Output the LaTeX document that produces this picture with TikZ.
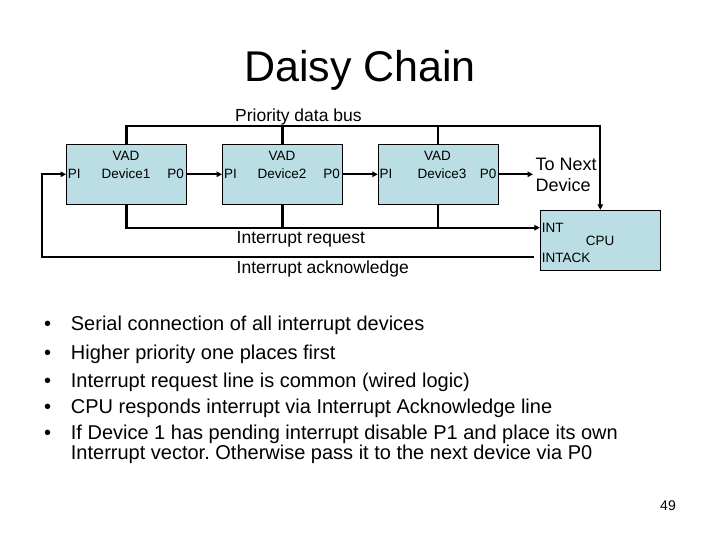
\documentclass[tikz,border=0pt]{standalone}
\usepackage{fontspec}
\setmainfont{Liberation Sans}
\usetikzlibrary{arrows.meta,calc}
\definecolor{boxfill}{RGB}{186,222,228}
\newcommand{\fs}[1]{\fontsize{#1}{#1}\selectfont}
\frenchspacing
\tikzset{
  devbox/.style={draw=black, line width=1pt, fill=boxfill, minimum width=120pt, minimum height=60pt, inner sep=0pt},
  wire/.style={line width=2.1pt},
  arr/.style={wire, -{Triangle[length=5.5pt,width=5.5pt]}},
  lbl/.style={inner sep=0pt, anchor=base, font=\fs{13.5}},
  lblw/.style={inner sep=0pt, anchor=base west, font=\fs{13.5}},
  bigl/.style={inner sep=0pt, anchor=base west, font=\fs{17.5}},
  bul/.style={inner sep=0pt, anchor=base west, font=\fs{20}},
}
\begin{document}
\begin{tikzpicture}[x=1pt,y=-1pt]
\useasboundingbox (0,0) rectangle (720,540);
% title
\node[inner sep=0pt, anchor=base, font=\fs{43}] (title) at (360,81.7) {Daisy Chain};
% boxes
\node[devbox] (d1) at (126.5,174.3) {};
\node[devbox] (d2) at (282.5,174.3) {};
\node[devbox] (d3) at (438.3,174.3) {};
\node[devbox] (cpu) at (600.3,240.3) {};
% device labels
\node[lbl] (d1v) at (126,161) {VAD};
\node[lbl] (d1n) at (126,178.7) {Device1};
\node[lblw] (d1pi) at (67.7,178.7) {PI};
\node[lbl, anchor=base east] (d1po) at (184,178.7) {P0};
\node[lbl] (d2v) at (282,161) {VAD};
\node[lbl] (d2n) at (282,178.7) {Device2};
\node[lblw] (d2pi) at (224,178.7) {PI};
\node[lbl, anchor=base east] (d2po) at (340,178.7) {P0};
\node[lbl] (d3v) at (437.5,161) {VAD};
\node[lbl] (d3n) at (442,178.7) {Device3};
\node[lblw] (d3pi) at (379.3,178.7) {PI};
\node[lbl, anchor=base east] (d3po) at (496.7,178.7) {P0};
% cpu labels
\node[lblw] (cint) at (541.7,232.3) {INT};
\node[lbl] (ccpu) at (600,245) {CPU};
\node[lblw] (cack) at (541.7,262.3) {INTACK};
% line labels
\node[bigl] (lbus) at (235,121.5) {Priority data bus};
\node[bigl] (lirq) at (236.5,243.3) {Interrupt request};
\node[bigl] (lack) at (236.5,273.5) {Interrupt acknowledge};
\node[inner sep=0pt, anchor=base west, font=\fs{18}] (next) at (535.5,170.7) {To Next};
\node[inner sep=0pt, anchor=base west, font=\fs{18}] (next2) at (535.5,191.7) {Device};
% coordinates
\coordinate (bus) at (0,125.7);
\coordinate (irq) at (0,227.7);
\coordinate (ackr) at (534,257.3);
\coordinate (ackl) at (42.3,257.3);
\coordinate (nxt) at (533,174.3);
% priority data bus
\draw[arr] (d1.north) -- (d1.north|-bus) -| (cpu.north);
\draw[wire] (d2.north) -- (d2.north|-bus);
\draw[wire] (d3.north) -- (d3.north|-bus);
% interrupt request
\draw[arr] (d1.south) |- (cpu.west|-irq);
\draw[wire] (d2.south) -- (d2.south|-irq);
\draw[wire] (d3.south) -- (d3.south|-irq);
% interrupt acknowledge
\draw[arr] (ackr) -- (ackl) |- (d1.west);
% daisy chain
\draw[arr] (d1.east) -- (d2.west);
\draw[arr] (d2.east) -- (d3.west);
\draw[arr] (d3.east) -- (nxt);
% bullets
\foreach \y/\t [count=\i] in {330.7/Serial connection of all interrupt devices,
  359.3/Higher priority one places first,
  387.3/Interrupt request line is common (wired logic),
  413.3/CPU responds interrupt via Interrupt Acknowledge line,
  439.3/If Device 1 has pending interrupt disable P1 and place its own}{
  \node[bul] (b\i) at (44,\y) {•};
  \node[bul] (t\i) at (70.7,\y) {\t};
}
\node[bul] (t6) at (70.7,459.3) {Interrupt vector. Otherwise pass it to the next device via P0};
% page number
\node[inner sep=0pt, anchor=base, font=\fs{14}] (pg) at (668,510) {49};
\end{tikzpicture}
\end{document}
